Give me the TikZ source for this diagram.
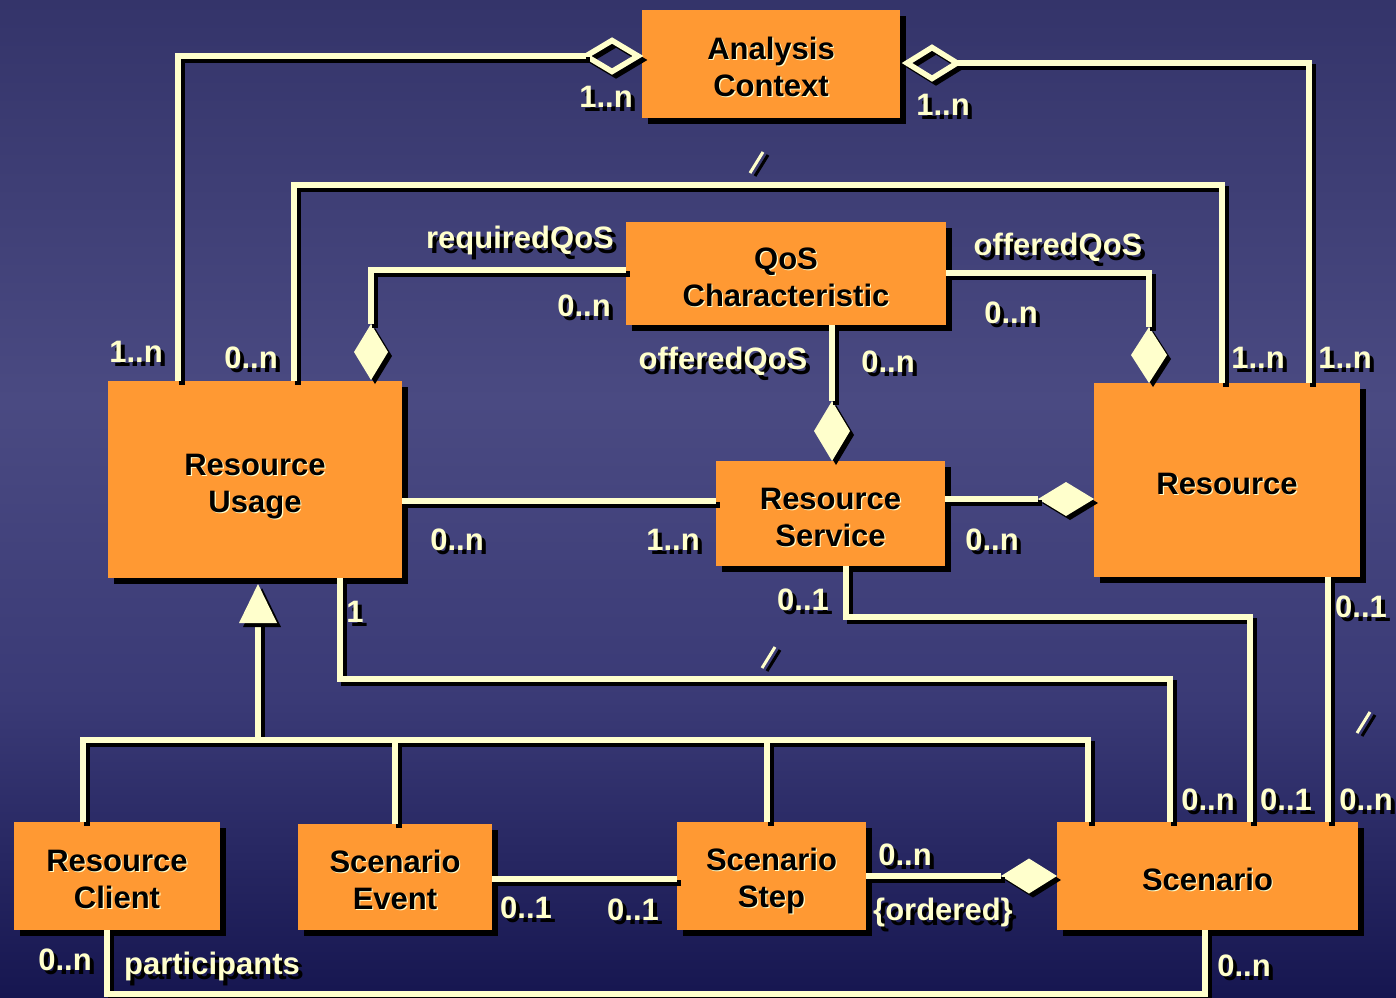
\documentclass[tikz,border=0pt]{standalone}
\usepackage{fontspec}
\setmainfont{Liberation Sans}
\usetikzlibrary{shapes.geometric,shadows}
\definecolor{bgA}{HTML}{34346A}
\definecolor{bgB}{HTML}{4A4A82}
\definecolor{bgC}{HTML}{3A3A76}
\definecolor{bgD}{HTML}{161650}
\definecolor{boxO}{HTML}{FF9933}
\definecolor{lineY}{HTML}{FFFFCC}
% light label with a black drop shadow
\newcommand\shd[1]{\rlap{\kern4pt\raisebox{-4.5pt}{\color{black}#1}}#1}
% black class name with a faint light shadow
\newcommand\btx[1]{\rlap{\kern1.2pt\raisebox{-1.2pt}{\color{lineY}#1}}{\color{black}#1}}
% taller first line, so the names sit a little lower in their boxes
\newcommand\tsp[1][30pt]{\rule{0pt}{#1}}
\begin{document}
\begin{tikzpicture}[x=1pt,y=-1pt,
  txt/.style={font=\bfseries\fontsize{31}{37}\selectfont},
  box/.style={txt, fill=boxO, align=center, inner sep=0pt,
    drop shadow={shadow xshift=6pt, shadow yshift=-6pt, fill=black, opacity=1}},
  conn/.style={draw=lineY, line width=6pt, line join=miter,
    preaction={draw=black, line width=6pt, transform canvas={shift={(4pt,-4pt)}}}},
  fdia/.style={diamond, fill=lineY, inner sep=0pt, outer sep=0pt,
    drop shadow={shadow xshift=4pt, shadow yshift=-4pt, fill=black, opacity=1}},
  hdia/.style={diamond, draw=lineY, line width=5.5pt, inner sep=0pt, outer sep=0pt,
    preaction={draw=black, line width=5.5pt, transform canvas={shift={(4pt,-4pt)}}}},
  slashmark/.style={draw=lineY, line width=3pt,
    preaction={draw=black, line width=3pt, transform canvas={shift={(5pt,-3pt)}}}},
  lab/.style={txt, text=lineY, inner sep=0pt}]

% background
\useasboundingbox (0,0) rectangle (1396,997);
\shade[top color=bgA, bottom color=bgB] (0,0) rectangle (1396,401);
\shade[top color=bgB, bottom color=bgC] (0,400) rectangle (1396,701);
\shade[top color=bgC, bottom color=bgD] (0,700) rectangle (1396,997);

% class boxes (placed first so connectors can refer to them)
\path
  (771,64)      node[box, minimum width=258pt, minimum height=108pt] (ac)  {\tsp\btx{Analysis}\\\btx{Context}}
  (786,273.5)   node[box, minimum width=320pt, minimum height=103pt] (qos) {\tsp\btx{QoS}\\\btx{Characteristic}}
  (255,479.5)   node[box, minimum width=294pt, minimum height=197pt] (ru)  {\tsp[36pt]\btx{Resource}\\\btx{Usage}}
  (830.5,513.5) node[box, minimum width=229pt, minimum height=105pt] (rs)  {\tsp\btx{Resource}\\\btx{Service}}
  (1227,480)    node[box, minimum width=266pt, minimum height=194pt] (res) {\tsp\btx{Resource}}
  (117,876)     node[box, minimum width=206pt, minimum height=108pt] (rc)  {\tsp\btx{Resource}\\\btx{Client}}
  (395,877)     node[box, minimum width=194pt, minimum height=106pt] (se)  {\tsp\btx{Scenario}\\\btx{Event}}
  (771.5,876)   node[box, minimum width=189pt, minimum height=108pt] (ss)  {\tsp[33pt]\btx{Scenario}\\\btx{Step}}
  (1207.5,876)  node[box, minimum width=301pt, minimum height=108pt] (sc)  {\tsp\btx{Scenario}};

% association ends (diamonds)
\node[hdia, minimum width=52pt, minimum height=31pt] (dAL) at (612,56) {};
\node[hdia, minimum width=50pt, minimum height=31pt] (dAR) at (932,63) {};
\node[fdia, minimum width=34pt, minimum height=56pt] (dRU) at (371,352) {};
\node[fdia, minimum width=36pt, minimum height=56pt] (dRes) at (1149,355) {};
\node[fdia, minimum width=36pt, minimum height=60pt] (dRS) at (832,431) {};
\node[fdia, minimum width=56pt, minimum height=34pt] (dR8) at (1066,499) {};
\node[fdia, minimum width=56pt, minimum height=35pt] (dSc) at (1029,876) {};

% helper points
\coordinate (gbase) at (258,622);
\coordinate (gbar) at (258,740);
\coordinate (grc) at ([xshift=-34pt]rc.north);
\coordinate (gss) at ([xshift=-4.5pt]ss.north);
\coordinate (gsc) at ([xshift=-119.5pt]sc.north);
\coordinate (rsb) at ([xshift=101pt]res.south);
\coordinate (rue) at ([yshift=-21.5pt]ru.east);

% connectors
\draw[conn] (dAL.west) -| ([xshift=70pt]ru.north west);
\draw[conn] (dAR.east) -| ([xshift=-51pt]res.north east);
\draw[conn] ([xshift=186pt]ru.north west) -- ++(0,-196) -| ([xshift=128pt]res.north west);
\draw[conn] ([yshift=3.5pt]qos.west) -| (dRU.north);
\draw[conn] ([yshift=0.5pt]qos.east) -| (dRes.north);
\draw[conn] (qos.south -| dRS.north) -- (dRS.north);
\draw[conn] (rue) -- (rue -| rs.west);
\draw[conn] (dR8.west) -- (dR8.west -| rs.east);
\draw[conn] ([xshift=85pt]ru.south) -- ++(0,101) -| ([xshift=-37.5pt]sc.north);
\draw[conn] ([xshift=15.5pt]rs.south) -- ++(0,51) -| ([xshift=42.5pt]sc.north);
\draw[conn] (rsb) -- (rsb |- sc.north);
\draw[conn] (grc) |- (gbar) -| (gsc)
  (gbase) -- (gbar)
  (se.north) -- (se.north |- gbar)
  (gss) -- (gss |- gbar);
\draw[conn] ([yshift=-2pt]se.east) -- ([yshift=-2pt]se.east -| ss.west);
\draw[conn] (dSc.west) -- (dSc.west -| ss.east);
\draw[conn] ([xshift=-10pt]rc.south) -- ++(0,64) -| ([xshift=-2.5pt]sc.south);

% generalization arrowhead
\fill[lineY, preaction={fill=black, transform canvas={shift={(4pt,-4pt)}}}]
  (258,584) -- (277,623) -- (239,623) -- cycle;

% "/" marks on crossing paths
\draw[slashmark] (750,173) -- (763,152);
\draw[slashmark] (762,668) -- (775,647);
\draw[slashmark] (1357,733) -- (1370,712);

% multiplicities and role names
\node[lab] (l1)  at (606,99)   {\shd{1..n}};
\node[lab] (l2)  at (943,107)  {\shd{1..n}};
\node[lab] (l3)  at (520,243)  {\shd{requiredQoS}};
\node[lab] (l4)  at (1058,250) {\shd{offeredQoS}};
\node[lab] (l5)  at (584,308)  {\shd{0..n}};
\node[lab] (l6)  at (1011,315) {\shd{0..n}};
\node[lab] (l7)  at (136,354)  {\shd{1..n}};
\node[lab] (l8)  at (251,360)  {\shd{0..n}};
\node[lab] (l9)  at (723,364)  {\shd{offeredQoS}};
\node[lab] (l10) at (888,364)  {\shd{0..n}};
\node[lab] (l11) at (1258,360) {\shd{1..n}};
\node[lab] (l12) at (1345,360) {\shd{1..n}};
\node[lab] (l13) at (457,542)  {\shd{0..n}};
\node[lab] (l14) at (673,542)  {\shd{1..n}};
\node[lab] (l15) at (992,542)  {\shd{0..n}};
\node[lab] (l16) at (803,602)  {\shd{0..1}};
\node[lab] (l17) at (355,614)  {\shd{1}};
\node[lab] (l18) at (1361,609) {\shd{0..1}};
\node[lab] (l19) at (1208,802) {\shd{0..n}};
\node[lab] (l20) at (1286,802) {\shd{0..1}};
\node[lab] (l21) at (1366,802) {\shd{0..n}};
\node[lab] (l22) at (905,857)  {\shd{0..n}};
\node[lab] (l23) at (526,910)  {\shd{0..1}};
\node[lab] (l24) at (633,912)  {\shd{0..1}};
\node[lab] (l25) at (943,915)  {\shd{\{ordered\}}};
\node[lab] (l26) at (65,962)   {\shd{0..n}};
\node[lab] (l27) at (212,969)  {\shd{participants}};
\node[lab] (l28) at (1244,968) {\shd{0..n}};
\end{tikzpicture}
\end{document}
